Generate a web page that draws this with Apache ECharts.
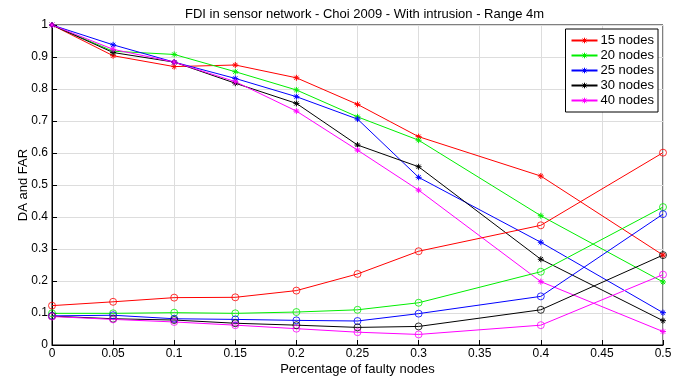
<!DOCTYPE html>
<html>
<head>
<meta charset="utf-8">
<script src="https://cdn.jsdelivr.net/npm/echarts@6/dist/echarts.min.js"></script>
<style>
  html, body { margin: 0; padding: 0; background: #fff; }
  #chart { width: 689px; height: 378px; }
</style>
</head>
<body>
<div id="chart"></div>
<script>
var faulty = [0, 0.05, 0.1, 0.15, 0.2, 0.25, 0.3, 0.4, 0.5];

var names = ['15 nodes', '20 nodes', '25 nodes', '30 nodes', '40 nodes'];
var colors = ['#ff0000', '#00ee00', '#0000ff', '#000000', '#ff00ff'];

// detection accuracy (stars)
var da15 = [1, 0.904, 0.870, 0.875, 0.835, 0.752, 0.651, 0.528, 0.281];
var da20 = [1, 0.918, 0.908, 0.854, 0.797, 0.713, 0.640, 0.404, 0.197];
var da25 = [1, 0.938, 0.884, 0.833, 0.776, 0.706, 0.524, 0.321, 0.101];
var da30 = [1, 0.914, 0.884, 0.818, 0.755, 0.625, 0.557, 0.268, 0.076];
var da40 = [1, 0.924, 0.884, 0.823, 0.731, 0.609, 0.484, 0.198, 0.042];

// false alarm rate (circles)
var far15 = [0.123, 0.135, 0.148, 0.149, 0.170, 0.222, 0.293, 0.374, 0.601];
var far20 = [0.099, 0.099, 0.101, 0.099, 0.103, 0.110, 0.132, 0.229, 0.431];
var far25 = [0.091, 0.093, 0.082, 0.080, 0.077, 0.075, 0.098, 0.152, 0.409];
var far30 = [0.090, 0.082, 0.078, 0.068, 0.062, 0.055, 0.058, 0.110, 0.281];
var far40 = [0.089, 0.080, 0.072, 0.062, 0.051, 0.040, 0.033, 0.062, 0.220];

var daSets = [da15, da20, da25, da30, da40];
var farSets = [far15, far20, far25, far30, far40];

var star = 'path://M5,0L5,10M0,5L10,5M1.5,1.5L8.5,8.5M8.5,1.5L1.5,8.5';

function pairs(vals) {
  return faulty.map(function (x, i) { return [x, vals[i]]; });
}

var series = [];
names.forEach(function (n, i) {
  series.push({
    name: n, type: 'line', data: pairs(daSets[i]),
    symbol: star, symbolSize: 6,
    lineStyle: { color: colors[i], width: 1 },
    itemStyle: { color: 'none', borderColor: colors[i], borderWidth: 1 },
    emphasis: { disabled: true }, z: 3
  });
});
names.forEach(function (n, i) {
  series.push({
    name: n, type: 'line', data: pairs(farSets[i]),
    symbol: 'circle', symbolSize: 7,
    lineStyle: { color: colors[i], width: 1 },
    itemStyle: { color: 'rgba(0,0,0,0)', borderColor: colors[i], borderWidth: 0.8 },
    emphasis: { disabled: true }, z: 3
  });
});

var font = 'Liberation Sans, Arial, sans-serif';

var option = {
  animation: false,
  textStyle: { fontFamily: font },
  title: {
    text: 'FDI in sensor network - Choi 2009 - With intrusion - Range 4m',
    left: 180, top: 3,
    textStyle: { fontSize: 13, fontWeight: 'normal', color: '#000', fontFamily: font }
  },
  legend: {
    data: names,
    orient: 'vertical',
    right: 31, top: 29,
    padding: [4, 4, 4, 5],
    itemGap: 0,
    itemWidth: 26, itemHeight: 7,
    borderColor: '#000', borderWidth: 1,
    backgroundColor: '#fff',
    itemStyle: { borderWidth: 1 },
    textStyle: { fontSize: 13, lineHeight: 15, color: '#000', fontFamily: font, padding: [0, 0, 0, -2] }
  },
  grid: {
    left: 52, right: 26, top: 25, bottom: 33,
    outerBoundsMode: 'none',
    show: true, borderColor: '#000', borderWidth: 1
  },
  xAxis: {
    type: 'value', min: 0, max: 0.5, interval: 0.05,
    name: 'Percentage of faulty nodes', nameLocation: 'middle', nameGap: 18,
    nameMoveOverlap: false,
    nameTextStyle: { fontSize: 13, color: '#000', fontFamily: font },
    axisLine: { onZero: false, lineStyle: { color: '#000' } },
    axisTick: { inside: true, length: 5, lineStyle: { color: '#000' } },
    axisLabel: { fontSize: 12, color: '#000', margin: 3, fontFamily: font },
    splitLine: { show: true, lineStyle: { color: '#dddddd', width: 1 } }
  },
  yAxis: {
    type: 'value', min: 0, max: 1, interval: 0.1,
    name: 'DA and FAR', nameLocation: 'middle', nameGap: 22,
    nameMoveOverlap: false,
    nameTextStyle: { fontSize: 13, color: '#000', fontFamily: font },
    axisLine: { show: true, lineStyle: { color: '#000' } },
    axisTick: { show: true, inside: true, length: 5, lineStyle: { color: '#000' } },
    axisLabel: { fontSize: 12, color: '#000', margin: 4, fontFamily: font },
    splitLine: { show: true, lineStyle: { color: '#dddddd', width: 1 } }
  },
  series: series
};

var myChart = echarts.init(document.getElementById('chart'));
myChart.setOption(option);
</script>
</body>
</html>
